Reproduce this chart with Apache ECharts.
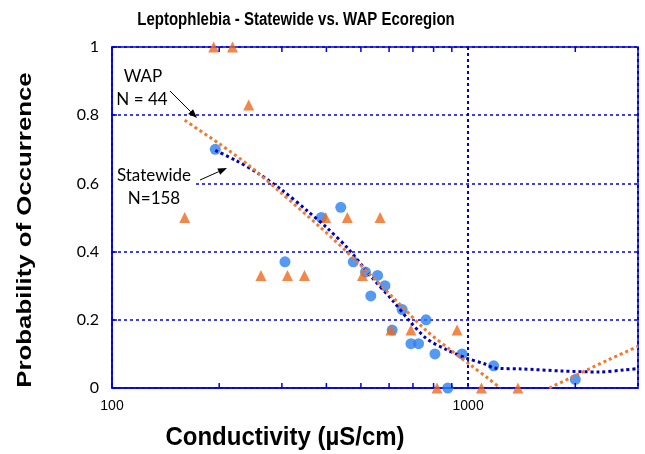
<!DOCTYPE html>
<html>
<head>
<meta charset="utf-8">
<script src="https://cdn.jsdelivr.net/npm/echarts@6/dist/echarts.min.js"></script>
<style>
  html, body { margin: 0; padding: 0; background: #fff; }
  #chart { width: 645px; height: 454px; }
</style>
</head>
<body>
<div id="chart"></div>
<script>
// ---- Data ----
const statewideX = [195, 306, 387, 439, 476, 515, 533, 557, 584, 612, 653, 691, 726, 762, 807, 877, 962, 1180, 2000];
const statewideY = [0.70, 0.37, 0.50, 0.53, 0.37, 0.34, 0.27, 0.33, 0.30, 0.17, 0.23, 0.13, 0.13, 0.20, 0.10, 0.00, 0.10, 0.065, 0.025];

const wapX = [160, 193, 218, 242, 262, 311, 347, 398, 458, 505, 566, 607, 691, 818, 931, 1090, 1380];
const wapY = [0.50, 1.00, 1.00, 0.83, 0.33, 0.33, 0.33, 0.50, 0.50, 0.33, 0.50, 0.17, 0.17, 0.00, 0.17, 0.00, 0.00];

const statewideFitX = [195, 222, 256, 303, 354, 403, 459, 533, 619, 678, 762, 867, 987, 1110, 1184, 1410, 1828, 2324, 2751, 3000];
const statewideFitY = [0.697, 0.668, 0.631, 0.577, 0.519, 0.468, 0.410, 0.328, 0.252, 0.202, 0.146, 0.113, 0.088, 0.071, 0.059, 0.056, 0.050, 0.047, 0.053, 0.057];

// null breaks the curve where it drops below the visible range
const wapFitX = [160, 199, 245, 297, 385, 484, 627, 762, 896, 1020, 1139, 1231, null, 1691, 2015, 2480, 3000];
const wapFitY = [0.785, 0.718, 0.649, 0.574, 0.471, 0.374, 0.257, 0.169, 0.110, 0.066, 0.028, 0.000, null, 0.000, 0.038, 0.083, 0.122];

const minorTicks = [200, 300, 400, 500, 600, 700, 800, 900, 2000];
const xTickLabels = [100, 1000];

const titleText = 'Leptophlebia - Statewide vs. WAP Ecoregion';
const xTitle = 'Conductivity (\u00B5S/cm)';
const yTitle = 'Probability of Occurrence';

// ---- Styles ----
const AXIS_BLUE = '#0000E6';
const GRID_BLUE = '#0000DD';
const DOT_BLUE = '#2B80F0';
const ORANGE = '#EE6A1C';
const FIT_BLUE = '#0000C0';
const FIT_ORANGE = '#F07A2A';

const zip = (xs, ys) => xs.map((x, i) => (x === null ? [null, null] : [x, ys[i]]));

const chart = echarts.init(document.getElementById('chart'), null, { renderer: 'canvas' });

function arrow(x1, y1, x2, y2) {
  const ang = Math.atan2(y2 - y1, x2 - x1);
  const L = 9, W = 3.5;
  const bx = x2 - L * Math.cos(ang), by = y2 - L * Math.sin(ang);
  const px = -Math.sin(ang) * W, py = Math.cos(ang) * W;
  return [
    { type: 'line', shape: { x1: x1, y1: y1, x2: bx, y2: by }, style: { stroke: '#000', lineWidth: 1 }, z: 100 },
    { type: 'polygon', shape: { points: [[x2, y2], [bx + px, by + py], [bx - px, by - py]] }, style: { fill: '#000' }, z: 100 }
  ];
}

function label(text, x, y, font, sx, sy, rot) {
  return {
    type: 'text', z: 100, x: x, y: y, scaleX: sx || 1, scaleY: sy || 1, rotation: rot || 0,
    style: { text: text, x: 0, y: 0, fill: '#000', font: font, textAlign: 'center', textVerticalAlign: 'middle' }
  };
}

const option = {
  animation: false,
  backgroundColor: '#fff',
  grid: {
    left: 112, right: 7, top: 47, bottom: 66,
    show: true, borderColor: AXIS_BLUE, borderWidth: 1.5, backgroundColor: 'transparent'
  },
  xAxis: {
    type: 'log', logBase: 10, min: 100, max: 3000,
    axisLine: { show: true, lineStyle: { color: AXIS_BLUE, width: 1.5 } },
    axisTick: { show: true, inside: true, length: 5, lineStyle: { color: AXIS_BLUE, width: 1.5 } },
    axisLabel: {
      show: true, margin: 11, color: '#000', fontFamily: 'Liberation Sans, Arial', fontSize: 14,
      showMaxLabel: false,
      formatter: v => (xTickLabels.indexOf(Math.round(v)) >= 0 ? String(Math.round(v)) : '')
    },
    splitLine: { show: true, lineStyle: { color: GRID_BLUE, width: 2, type: [3, 3] } },
    minorTick: { show: false }
  },
  yAxis: {
    type: 'value', min: 0, max: 1, interval: 0.2,
    axisLine: { show: true, lineStyle: { color: AXIS_BLUE, width: 1.5 } },
    axisTick: { show: true, inside: true, length: 5, lineStyle: { color: AXIS_BLUE, width: 1.5 } },
    axisLabel: { margin: 13, color: '#000', fontFamily: 'Lato', fontSize: 16 },
    splitLine: { show: true, lineStyle: { color: GRID_BLUE, width: 1.5, type: [3, 3] } }
  },
  series: [
    {
      name: 'Statewide', type: 'scatter', data: zip(statewideX, statewideY),
      symbol: 'circle', symbolSize: 11, itemStyle: { color: DOT_BLUE }, z: 3
    },
    {
      name: 'WAP', type: 'scatter', data: zip(wapX, wapY),
      symbol: 'triangle', symbolSize: 11, itemStyle: { color: ORANGE }, z: 4
    },
    {
      name: 'Statewide fit', type: 'line', data: zip(statewideFitX, statewideFitY),
      showSymbol: false, symbol: 'none', smooth: 0.3, connectNulls: false,
      lineStyle: { color: FIT_BLUE, width: 3, type: [3, 3] }, z: 5
    },
    {
      name: 'WAP fit', type: 'line', data: zip(wapFitX, wapFitY),
      showSymbol: false, symbol: 'none', smooth: 0.3, connectNulls: false,
      lineStyle: { color: FIT_ORANGE, width: 3, type: [3, 3] }, z: 6
    },
    {
      name: 'minor ticks', type: 'custom', data: minorTicks.map(v => [v, 0]),
      encode: { x: 0, y: 1 }, silent: true, z: 7,
      renderItem: function (params, api) {
        const b = api.coord([api.value(0), 0]);
        const t = api.coord([api.value(0), 1]);
        const st = { stroke: AXIS_BLUE, lineWidth: 1.5 };
        return {
          type: 'group', children: [
            { type: 'line', shape: { x1: b[0], y1: b[1], x2: b[0], y2: b[1] - 5 }, style: st },
            { type: 'line', shape: { x1: t[0], y1: t[1], x2: t[0], y2: t[1] + 5 }, style: st }
          ]
        };
      }
    }
  ],
  graphic: [
    label(titleText, 296, 20, 'bold 15px "Liberation Sans", Arial', 1, 1.2),
    label(xTitle, 285, 438, 'bold 24px "Liberation Sans", Arial', 1, 1.1),
    label(yTitle, 25, 230, 'bold 20px "Liberation Sans", Arial', 1.29, 1, Math.PI / 2),
    label('WAP', 143, 77, '17px Lato'),
    label('N = 44', 142, 100, '17px Lato'),
    { type: 'rect', z: 90, shape: { x: 113, y: 166, width: 82, height: 44 }, style: { fill: '#fff' } },
    label('Statewide', 154, 176, '17px Lato'),
    label('N=158', 154, 199, '17px Lato')
  ].concat(arrow(170, 91, 197, 118)).concat(arrow(200, 180, 227, 168))
};

chart.setOption(option);
</script>
</body>
</html>
